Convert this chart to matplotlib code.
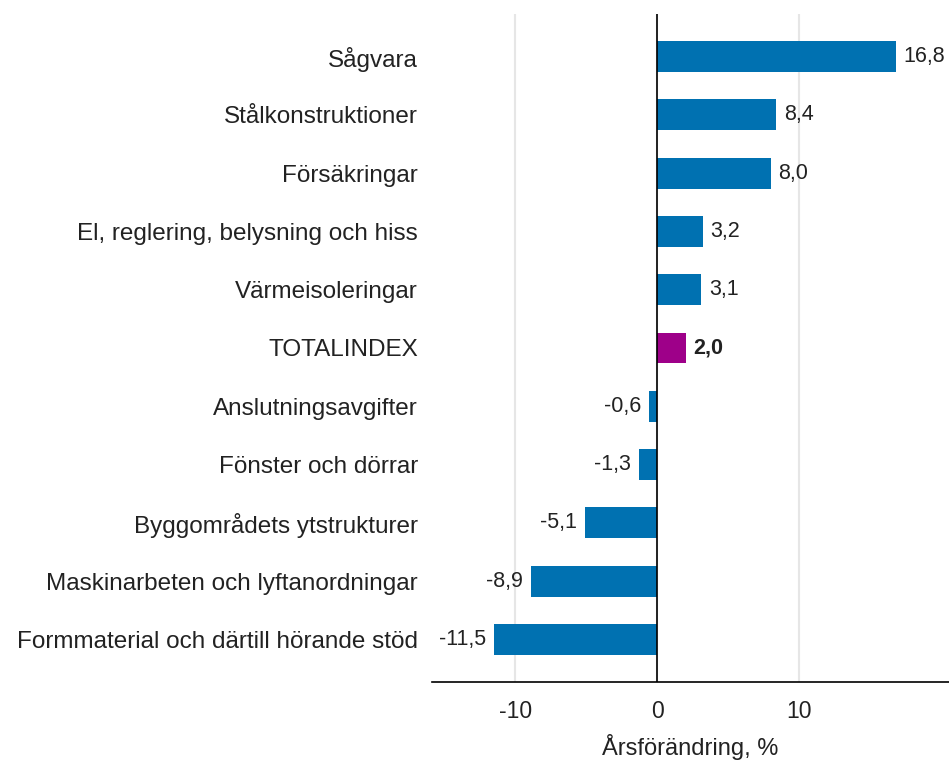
import numpy as np
import matplotlib
matplotlib.use('Agg')
from matplotlib import pyplot as plt

plt.rcParams['font.family'] = ['Liberation Sans', 'DejaVu Sans']

kategorier = ['Sågvara', 'Stålkonstruktioner', 'Försäkringar',
              'El, reglering, belysning och hiss', 'Värmeisoleringar',
              'TOTALINDEX', 'Anslutningsavgifter', 'Fönster och dörrar',
              'Byggområdets ytstrukturer', 'Maskinarbeten och lyftanordningar',
              'Formmaterial och därtill hörande stöd']
varden = [16.8, 8.4, 8.0, 3.2, 3.1, 2.0, -0.6, -1.3, -5.1, -8.9, -11.5]
etiketter = ['16,8', '8,4', '8,0', '3,2', '3,1', '2,0', '-0,6', '-1,3', '-5,1', '-8,9', '-11,5']

bla = '#0071b1'
lila = '#9e0089'
farger = [lila if k == 'TOTALINDEX' else bla for k in kategorier]

fig = plt.figure(figsize=(9.49, 7.6), dpi=100)
ax = fig.add_axes([432/949, 1 - 682/760, 1 - 432/949, (682 - 14)/760])

y = np.arange(len(kategorier))
ax.barh(y, varden, height=0.53, color=farger, zorder=3)

for yi, v, txt, k in zip(y, varden, etiketter, kategorier):
    vikt = 'bold' if k == 'TOTALINDEX' else 'normal'
    if v >= 0:
        ax.text(v + 0.55, yi, txt, ha='left', va='center', fontsize=15.5, color='#222222', fontweight=vikt)
    else:
        ax.text(v - 0.55, yi, txt, ha='right', va='center', fontsize=15.5, color='#222222', fontweight=vikt)

ax.set_xlim(-15.85, 20.55)
ax.set_ylim(10.73, -0.73)
ax.set_yticks(y)
ax.set_yticklabels(kategorier, fontsize=17.5, color='#222222')
ax.set_xticks([-10, 0, 10])
ax.set_xticklabels(['-10', '0', '10'], fontsize=16.5, color='#222222')
ax.tick_params(axis='y', length=0, pad=10)
ax.tick_params(axis='x', length=0, pad=13)
ax.set_xlabel('Årsförändring, %', fontsize=17, color='#222222', labelpad=8)

for s in ['top', 'right', 'left']:
    ax.spines[s].set_visible(False)
ax.spines['bottom'].set_color('black')
ax.spines['bottom'].set_linewidth(1.2)

ax.grid(axis='x', color='#e6e6e6', linewidth=1.5, zorder=0)
ax.axvline(0, color='black', linewidth=1.2, zorder=4)

fig.savefig('out.png', dpi=100)
